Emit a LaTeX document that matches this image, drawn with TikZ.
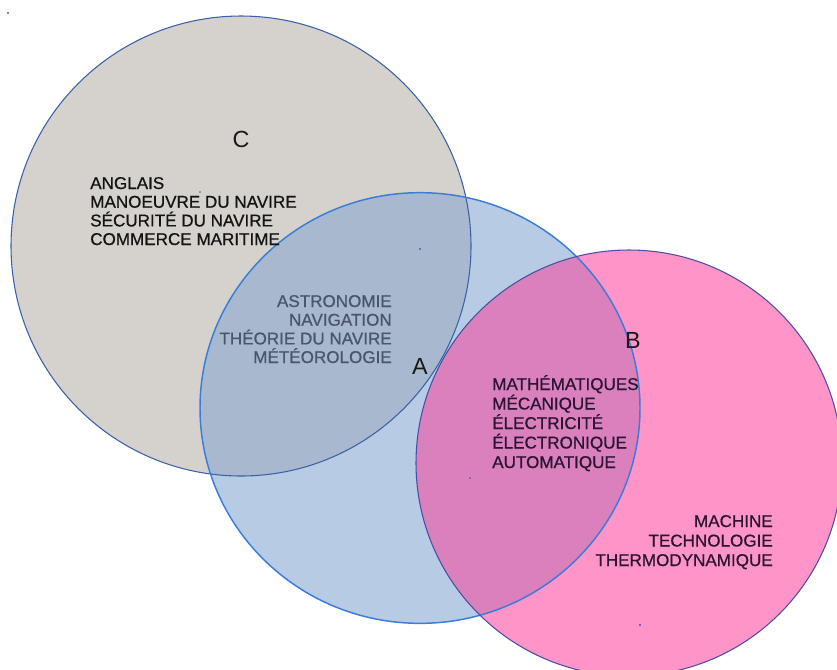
\documentclass[tikz,border=0pt]{standalone}
\usepackage{fontspec}
\setmainfont{Liberation Sans}[BoldFont={Liberation Sans},BoldFeatures={FakeBold=0.7}]
\begin{document}
\begin{tikzpicture}[x=0.75pt,y=-0.75pt,
  item/.style={inner sep=0pt,font=\fontsize{12.8}{14}\selectfont\bfseries},
  setlabel/.style={inner sep=0pt,font=\fontsize{17.5}{20}\selectfont,text=black!90},
  anchordot/.style={fill=#1,draw=none}]
\definecolor{grayC}{HTML}{D5D2CD}
\definecolor{blueA}{HTML}{B7CBE5}
\definecolor{blueCA}{HTML}{A8B9CF}
\definecolor{pinkB}{HTML}{FF94C8}
\definecolor{pinkAB}{HTML}{D980BD}
\definecolor{lineC}{HTML}{3A62A6}
\definecolor{lineA}{HTML}{3A7DD8}
\definecolor{lineB}{HTML}{4A4FA6}
\definecolor{txtA}{HTML}{4B556B}
\definecolor{txtB}{HTML}{2B1530}
\useasboundingbox (0,0) rectangle (837,669);
\fill[white] (0,0) rectangle (837,669);

% centres of the three sets
\coordinate (cC) at (241,246);
\coordinate (cA) at (420,408);
\coordinate (cB) at (629,463);

% fills
\fill[grayC] (cC) circle[radius=172.5pt];
\fill[blueA] (cA) ellipse[x radius=165pt,y radius=161.5pt];
\begin{scope}
  \clip (cC) circle[radius=172.5pt];
  \fill[blueCA] (cA) ellipse[x radius=165pt,y radius=161.5pt];
\end{scope}
\fill[pinkB] (cB) circle[radius=159.75pt];
\begin{scope}
  \clip (cA) ellipse[x radius=165pt,y radius=161.5pt];
  \fill[pinkAB] (cB) circle[radius=159.75pt];
\end{scope}

% outlines
\draw[lineC,line width=0.8pt] (cC) circle[radius=172.5pt];
\draw[lineA,line width=1.1pt] (cA) ellipse[x radius=165pt,y radius=161.5pt];
\draw[lineB,line width=0.8pt] (cB) circle[radius=159.75pt];

% set labels
\node[setlabel] (labC) at (241,139) {C};
\node[setlabel] (labA) at (420,366) {A};
\node[setlabel] (labB) at (633,340) {B};

% set C only
\node[item,anchor=base west,text=black!92] (c1) at (90,189) {ANGLAIS};
\node[item,anchor=base west,text=black!92] (c2) at (90,207.7) {MANOEUVRE DU NAVIRE};
\node[item,anchor=base west,text=black!92] (c3) at (90,226.4) {SÉCURITÉ DU NAVIRE};
\node[item,anchor=base west,text=black!92] (c4) at (90,245) {COMMERCE MARITIME};

% C and A
\node[item,anchor=base east,text=txtA] (a1) at (392,307) {ASTRONOMIE};
\node[item,anchor=base east,text=txtA] (a2) at (392,325.7) {NAVIGATION};
\node[item,anchor=base east,text=txtA] (a3) at (392,344.4) {THÉORIE DU NAVIRE};
\node[item,anchor=base east,text=txtA] (a4) at (392,363) {MÉTÉOROLOGIE};

% A and B
\node[item,anchor=base west,text=txtB] (b1) at (492,390) {MATHÉMATIQUES};
\node[item,anchor=base west,text=txtB] (b2) at (492,409.5) {MÉCANIQUE};
\node[item,anchor=base west,text=txtB] (b3) at (492,429) {ÉLECTRICITÉ};
\node[item,anchor=base west,text=txtB] (b4) at (492,448.5) {ÉLECTRONIQUE};
\node[item,anchor=base west,text=txtB] (b5) at (492,468) {AUTOMATIQUE};

% set B only
\node[item,anchor=base east,text=txtB] (m1) at (773,527) {MACHINE};
\node[item,anchor=base east,text=txtB] (m2) at (773,546.5) {TECHNOLOGIE};
\node[item,anchor=base east,text=txtB] (m3) at (773,566) {THERMODYNAMIQUE};

% text anchor marks
\fill[anchordot=lineC] (8,13) circle[radius=0.9pt];
\fill[anchordot=lineC] (200,192) circle[radius=0.6pt];
\fill[anchordot=lineC!60!black] (420,249) circle[radius=0.6pt];
\fill[anchordot=lineB] (470,478) circle[radius=0.6pt];
\fill[anchordot=lineB] (640,625) circle[radius=0.8pt];
\end{tikzpicture}
\end{document}
